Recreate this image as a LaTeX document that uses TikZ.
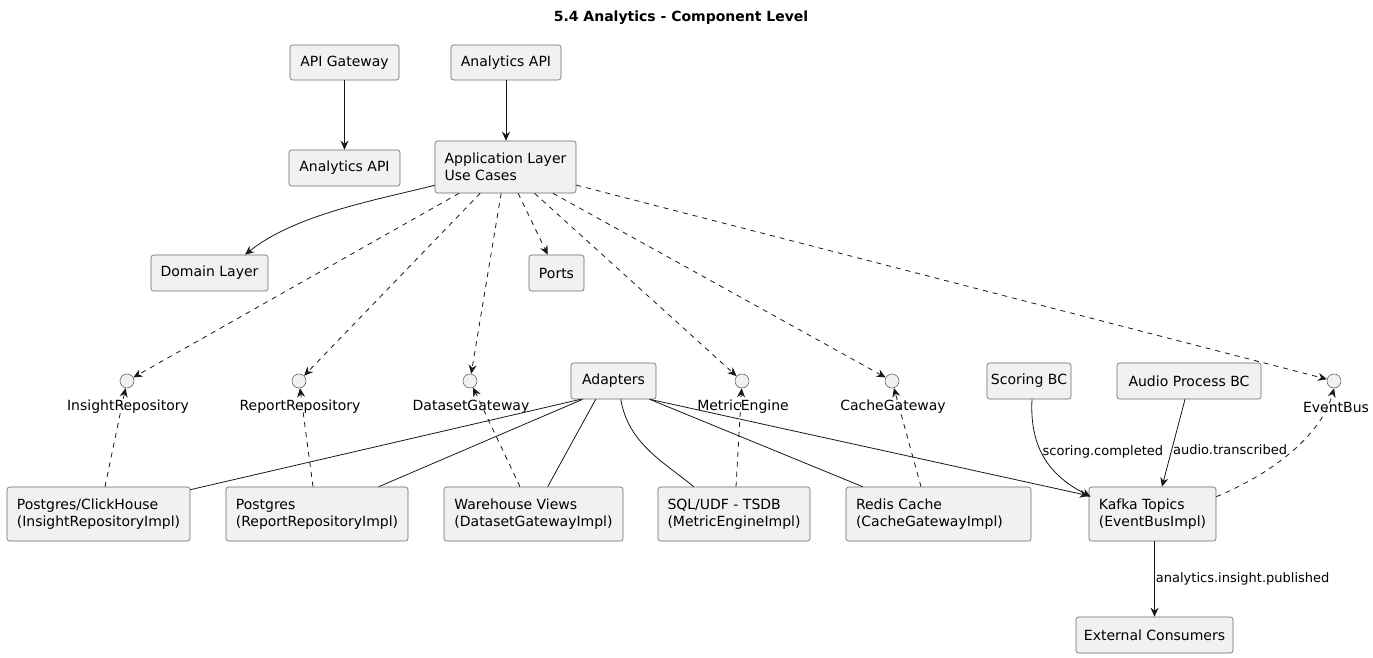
\documentclass[tikz,border=0pt]{standalone}
\usepackage{fontspec}
\setmainfont{DejaVu Sans}
\usetikzlibrary{arrows.meta}
\definecolor{boxfill}{HTML}{F1F1F1}
\definecolor{boxline}{HTML}{6A6A6A}
\definecolor{edgeline}{HTML}{181818}
\begin{document}
\begin{tikzpicture}[x=1pt,y=-1pt,
 comp/.style={draw=boxline, fill=boxfill, rounded corners=2.5pt, line width=0.6pt, font=\fontsize{14}{17}\selectfont, align=left, inner sep=0pt},
 iface/.style={circle, draw=boxline, fill=boxfill, line width=0.6pt, minimum size=14pt, inner sep=0pt},
 ilabel/.style={font=\fontsize{14}{17}\selectfont, inner sep=0pt},
 elabel/.style={font=\fontsize{13}{15}\selectfont, inner sep=1pt},
 arr/.style={draw=edgeline, line width=0.8pt, -{Stealth[length=9pt,width=8pt,inset=3pt]}},
 dep/.style={arr, dash pattern=on 5pt off 5pt},
 link/.style={draw=edgeline, line width=0.8pt},
 ]
\useasboundingbox (0,0) rectangle (1373,658);
\fill[white] (0,0) rectangle (1373,658);

\node[font=\bfseries\fontsize{14}{17}\selectfont] (title) at (681,18) {5.4 Analytics - Component Level};

% components
\node[comp, minimum width=109pt, minimum height=35pt] (gw) at (344.5,62.5) {API Gateway};
\node[comp, minimum width=110pt, minimum height=35pt] (api) at (506,62.5) {Analytics API};
\node[comp, minimum width=111pt, minimum height=36pt] (api2) at (344.5,168) {Analytics API};
\node[comp, minimum width=141pt, minimum height=52pt] (app) at (505.5,167) {Application Layer\\Use Cases};
\node[comp, minimum width=117pt, minimum height=36pt] (dom) at (209.5,273) {Domain Layer};
\node[comp, minimum width=55pt, minimum height=36pt] (ports) at (556.5,273) {Ports};
\node[comp, minimum width=85pt, minimum height=36pt] (ad) at (613.5,381) {Adapters};
\node[comp, minimum width=84pt, minimum height=36pt] (sc) at (1029,381) {Scoring BC};
\node[comp, minimum width=144pt, minimum height=36pt] (au) at (1189,381) {Audio Process BC};
\node[comp, minimum width=183pt, minimum height=54pt] (pch) at (98.5,514) {Postgres/ClickHouse\\(InsightRepositoryImpl)};
\node[comp, minimum width=182pt, minimum height=54pt] (pg) at (317,514) {Postgres\\(ReportRepositoryImpl)};
\node[comp, minimum width=179pt, minimum height=54pt] (wh) at (533.5,514) {Warehouse Views\\(DatasetGatewayImpl)};
\node[comp, minimum width=152pt, minimum height=54pt] (sql) at (734,514) {SQL/UDF - TSDB\\(MetricEngineImpl)};
\node[comp, text width=165pt, inner xsep=10pt, minimum height=54pt] (rc) at (938.5,514) {Redis Cache\\(CacheGatewayImpl)};
\node[comp, minimum width=127pt, minimum height=54pt] (kf) at (1152.5,514) {Kafka Topics\\(EventBusImpl)};
\node[comp, minimum width=157pt, minimum height=36pt] (ext) at (1154.5,635) {External Consumers};

% interfaces
\node[iface] (ir) at (127,381) {};
\node[iface] (rr) at (299,381) {};
\node[iface] (dg) at (470,381) {};
\node[iface] (me) at (742,381) {};
\node[iface] (cg) at (892,381) {};
\node[iface] (eb) at (1334,381) {};
\node[ilabel] (irl) at (128,407) {InsightRepository};
\node[ilabel] (rrl) at (300,407) {ReportRepository};
\node[ilabel] (dgl) at (471,407) {DatasetGateway};
\node[ilabel] (mel) at (743,407) {MetricEngine};
\node[ilabel] (cgl) at (893,407) {CacheGateway};
\node[ilabel] (ebl) at (1336,407) {EventBus};

% top arrows
\draw[arr] (gw) -- (api2);
\draw[arr] (api.south) -- (api.south |- app.north);
\draw[arr] ([yshift=8pt]app.south west) .. controls +(-60,15) and +(50,-40) .. ([xshift=35.5pt]dom.north);

% application layer dependencies
\draw[dep] (app) -- (ports);
\draw[dep] (app) -- (ir);
\draw[dep] (app) -- (rr);
\draw[dep] (app) -- (dg);
\draw[dep] (app) -- (me);
\draw[dep] (app) -- (cg);
\draw[dep] (app) -- (eb);

% implementations
\draw[dep] ([xshift=6.5pt]pch.north) -- (ir);
\draw[dep] ([xshift=-4pt]pg.north) -- (rr);
\draw[dep] ([xshift=-13.5pt]wh.north) -- (dg);
\draw[dep] ([xshift=2pt]sql.north) -- (me);
\draw[dep] ([xshift=-17.5pt]rc.north) -- (cg);
\draw[dep] ([yshift=-10pt]kf.north east) .. controls +(60,-25) and +(-12,45) .. (eb.south);

% adapters
\draw[link] ([xshift=10pt]ad.south west) -- ([yshift=-3pt]pch.north east);
\draw[link] ([xshift=12pt]ad.south west) -- ([xshift=153pt]pg.north west);
\draw[link] ([xshift=25pt]ad.south west) -- ([xshift=104pt]wh.north west);
\draw[link] ([xshift=50pt]ad.south west) .. controls +(8,45) and +(-30,-25) .. ([xshift=36pt]sql.north west);
\draw[link] ([xshift=79pt]ad.south west) -- ([xshift=17pt]rc.north west);
\draw[arr] ([xshift=79pt]ad.south west) -- ([yshift=-9pt]kf.north west);

% events
\draw[arr] ([xshift=3pt]sc.south) .. controls +(-3,55) and +(-35,-18) .. ([xshift=2pt,yshift=-10pt]kf.north west)
  node[pos=0.4, anchor=west, elabel] {scoring.completed};
\draw[arr] ([xshift=-4pt]au.south) -- ([xshift=9.5pt]kf.north)
  node[pos=0.58, anchor=west, elabel] {audio.transcribed};
\draw[arr] ([xshift=2pt]kf.south) -- (ext.north)
  node[midway, anchor=west, elabel] {analytics.insight.published};
\end{tikzpicture}
\end{document}
